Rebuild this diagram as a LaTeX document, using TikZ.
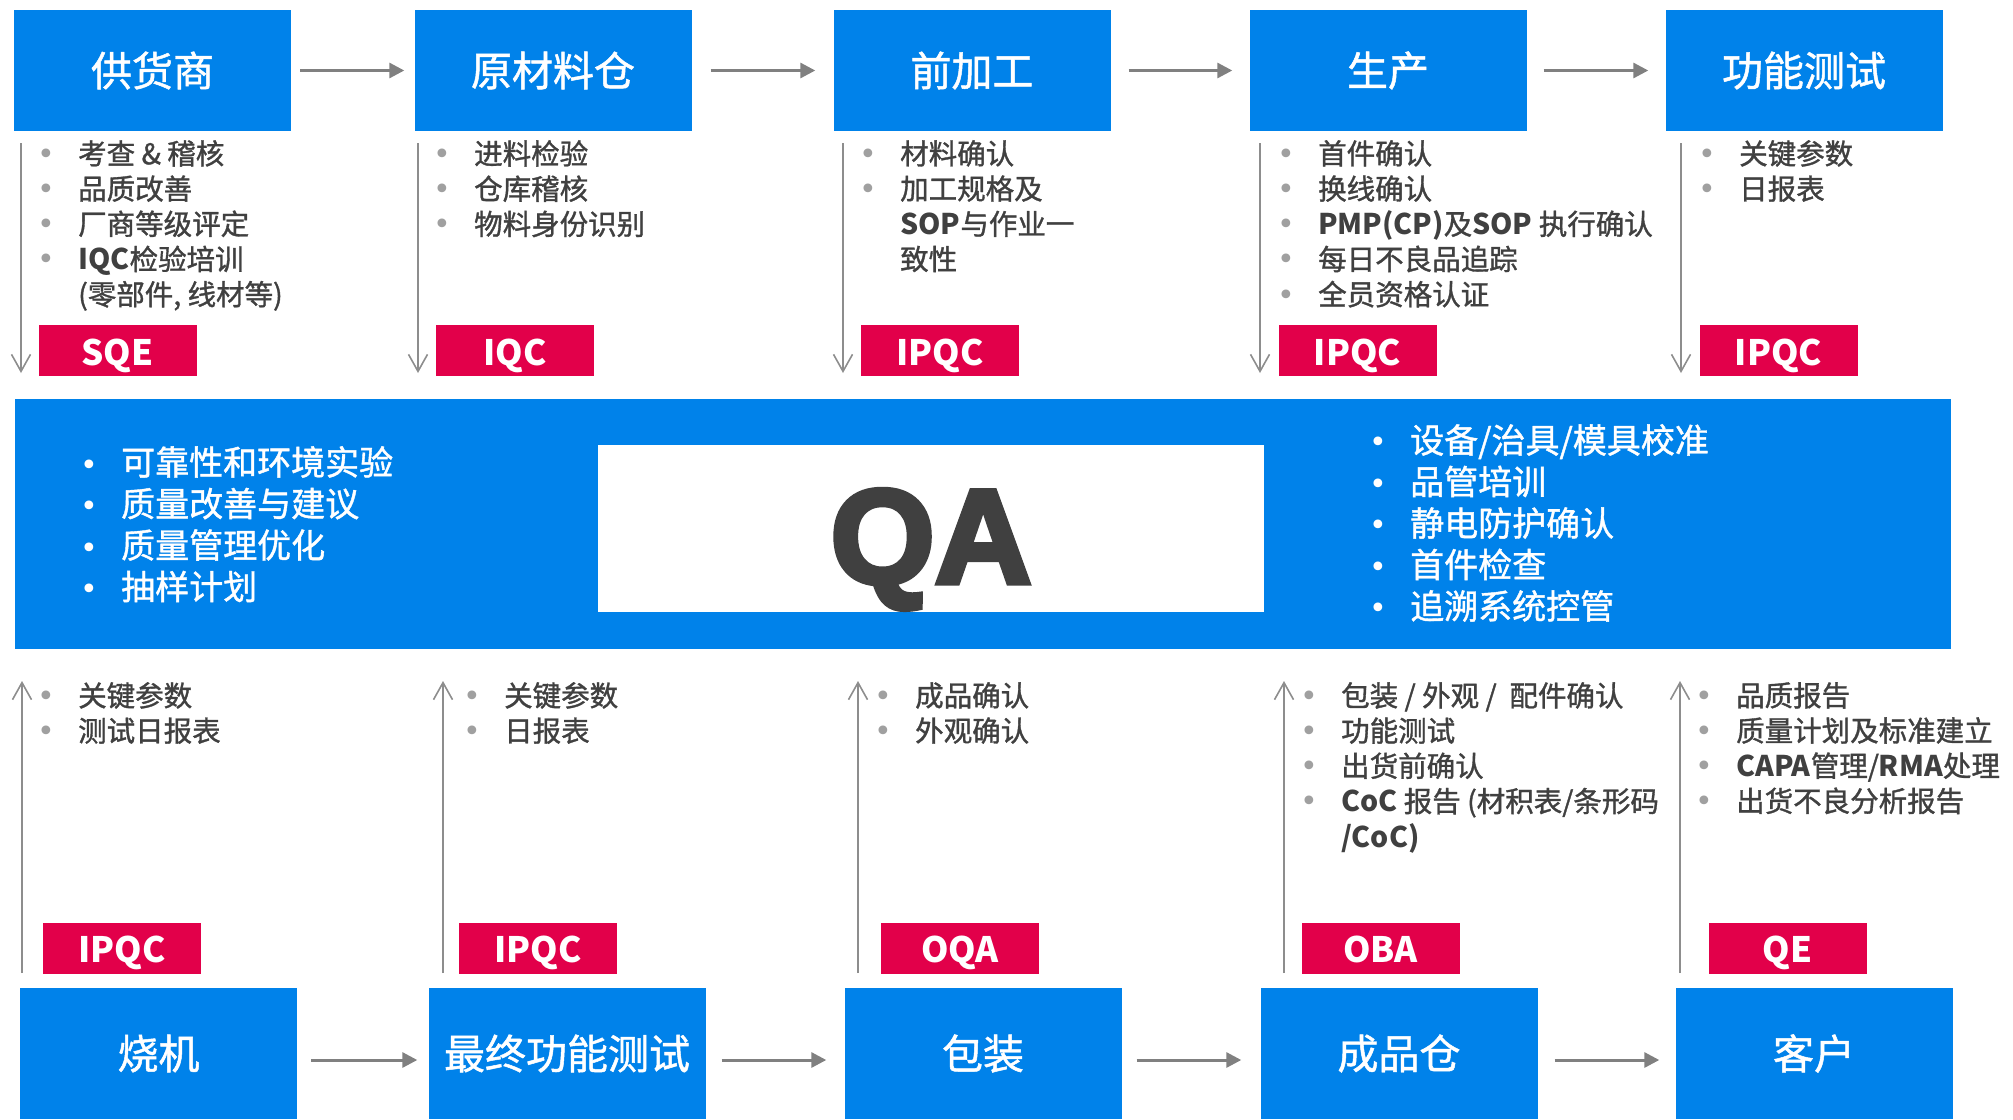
\documentclass[tikz,border=0pt]{standalone}
\usepackage{fontspec}
\setmainfont{Noto Sans CJK SC}[UprightFeatures={FakeBold=1.2}]
\newfontfamily\qafont{Liberation Sans}[BoldFeatures={FakeBold=4}]
\newfontfamily\dotfont{DejaVu Sans}
\usetikzlibrary{arrows.meta}

% bullet in front of each item
\newcommand\itm[1][dot]{\makebox[41pt][l]{\raisebox{0pt}{\color{#1}\dotfont\fontsize{30}{30}\selectfont •}}}
\newcommand\gap{\hspace*{41pt}}

\begin{document}
\begin{tikzpicture}[x=1pt,y=-1pt]
  % some colors
  \definecolor{stageblue}{RGB}{0,130,234}
  \definecolor{tagred}{RGB}{226,0,74}
  \definecolor{ink}{RGB}{64,64,64}
  \definecolor{dot}{RGB}{160,160,160}
  \definecolor{wire}{RGB}{128,128,128}
  % some styles
  \tikzset{
    stage/.style={
      rectangle,
      minimum width=277pt,
      minimum height=121pt,
      inner sep=0pt,
      fill=stageblue,
      text=white,
      font=\fontsize{41}{41}\selectfont,
    },
    tag/.style={
      rectangle,
      minimum width=158pt,
      minimum height=51pt,
      inner sep=0pt,
      text height=29.5pt,
      text depth=0pt,
      fill=tagred,
      text=white,
      font=\bfseries\fontsize{35}{35}\selectfont,
    },
    items/.style={anchor=north west, inner sep=0pt, align=left, text=ink,
      font=\fontsize{28.5}{35.2}\selectfont},
    bigitems/.style={items, text=white, font=\fontsize{34}{41.5}\selectfont},
    link/.style={wire, line width=3pt, -{Triangle[length=15pt,width=15pt]}},
    vline/.style={wire!90, line width=1.6pt, -{Straight Barb[length=17pt,width=19pt]}},
  }
  \useasboundingbox (0,0) rectangle (2013,1119);

  % QA band in the middle
  \node[rectangle, fill=stageblue, minimum width=1936pt, minimum height=250pt] (band) at (983,524) {};
  \node[rectangle, fill=white, minimum width=666pt, minimum height=167pt, text=ink,
    text height=109pt, text depth=0pt,
    font=\qafont\bfseries\fontsize{134}{134}\selectfont] (qa) at (931,528.5) {QA};
  \node[bigitems] (qa-l) at (80,446) {\itm[white]可靠性和环境实验\\ \itm[white]质量改善与建议\\
    \itm[white]质量管理优化\\ \itm[white]抽样计划};
  \node[bigitems] (qa-r) at (1369,424) {\itm[white]设备/治具/模具校准\\ \itm[white]品管培训\\
    \itm[white]静电防护确认\\ \itm[white]首件检查\\ \itm[white]追溯系统控管};

  % top row
  \foreach \x/\name [count=\i] in {152.5/供货商, 553/原材料仓, 972/前加工, 1388/生产, 1804/功能测试}
    \node[stage] (t\i) at (\x,70.5) {\name};
  \foreach \i/\j/\a/\b in {1/2/9/10, 2/3/19/18, 3/4/18/17, 4/5/17/17}
    \draw[link, shorten <=\a pt, shorten >=\b pt] (t\i) -- (t\j);
  \foreach \x/\lbl [count=\i] in {117.5/SQE, 515/IQC, 940/IPQC, 1357.5/IPQC, 1778.5/IPQC}
    \node[tag] (tq\i) at (\x,350.5) {\lbl};
  \foreach \x [count=\i] in {21,418,843,1260,1681} {
    \coordinate (ds\i) at (\x,143);
    \coordinate (de\i) at (\x,373);
    \draw[vline] (ds\i) -- (de\i);
  }
  \node[items] (tl1) at (37,140) {\itm 考查 \& 稽核\\ \itm 品质改善\\ \itm 厂商等级评定\\
    \itm{\bfseries IQC}检验培训\\ \gap(零部件, 线材等)};
  \node[items] (tl2) at (433,140) {\itm 进料检验\\ \itm 仓库稽核\\ \itm 物料身份识别};
  \node[items] (tl3) at (859,140) {\itm 材料确认\\ \itm 加工规格及\\ \gap{\bfseries SOP}与作业一\\ \gap 致性};
  \node[items] (tl4) at (1277,140) {\itm 首件确认\\ \itm 换线确认\\
    \itm{\bfseries PMP(CP)}及{\bfseries SOP} 执行确认\\ \itm 每日不良品追踪\\ \itm 全员资格认证};
  \node[items] (tl5) at (1698,140) {\itm 关键参数\\ \itm 日报表};

  % bottom row
  \foreach \x/\name [count=\i] in {158.5/烧机, 567/最终功能测试, 983/包装, 1399/成品仓, 1814/客户}
    \node[stage, minimum height=131pt] (b\i) at (\x,1053.5) {\name};
  \foreach \i/\j/\a/\b in {1/2/14/11, 2/3/16/18, 3/4/15/19, 4/5/17/16}
    \draw[link, shorten <=\a pt, shorten >=\b pt] ([yshift=-6.5pt]b\i.east) -- ([yshift=-6.5pt]b\j.west);
  \foreach \x/\lbl [count=\i] in {122/IPQC, 538/IPQC, 960/OQA, 1380.5/OBA, 1787.5/QE}
    \node[tag] (bq\i) at (\x,948) {\lbl};
  \foreach \x [count=\i] in {22,443,858,1284,1680} {
    \coordinate (us\i) at (\x,973);
    \coordinate (ue\i) at (\x,681);
    \draw[vline] (us\i) -- (ue\i);
  }
  \node[items] (bl1) at (37,682) {\itm 关键参数\\ \itm 测试日报表};
  \node[items] (bl2) at (463,682) {\itm 关键参数\\ \itm 日报表};
  \node[items] (bl3) at (874,682) {\itm 成品确认\\ \itm 外观确认};
  \node[items] (bl4) at (1300,682) {\itm 包装 / 外观 /~~配件确认\\ \itm 功能测试\\ \itm 出货前确认\\
    \itm{\bfseries CoC} 报告 (材积表/条形码\\ \gap{\bfseries /CoC)}};
  \node[items] (bl5) at (1695,682) {\itm 品质报告\\ \itm 质量计划及标准建立\\
    \itm{\bfseries CAPA}管理/{\bfseries RMA}处理\\ \itm 出货不良分析报告};
\end{tikzpicture}
\end{document}
